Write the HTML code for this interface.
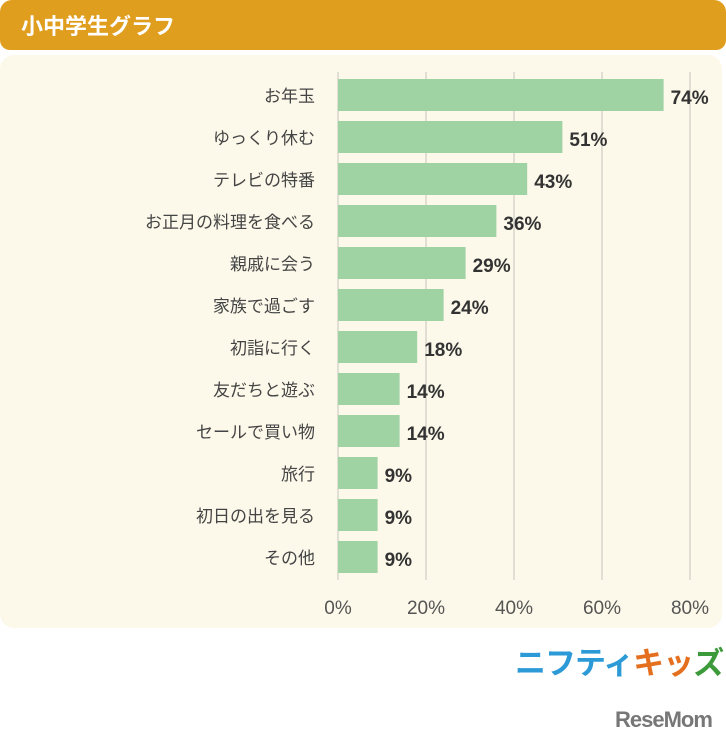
<!DOCTYPE html>
<html><head><meta charset="utf-8"><style>
body{margin:0;width:726px;height:746px;background:#fff;font-family:"Liberation Sans","Noto Sans CJK JP",sans-serif;position:relative;overflow:hidden}
.hdr{position:absolute;left:0;top:0;width:726px;height:50px;background:#e09e1f;border-radius:12px 12px 10px 10px}
.hdr span{position:absolute;left:21px;top:9px;color:#fff;font-size:22px;font-weight:bold}
.panel{position:absolute;left:0;top:55px;width:722px;height:573px;background:#fcf9ea;border-radius:14px}
svg{position:absolute;left:0;top:0}
</style></head><body>
<div class="hdr"><span>小中学生グラフ</span></div>
<div class="panel"></div>
<svg id="c" width="726" height="746"></svg>
<div style="position:absolute;left:515px;top:638px;font-size:31px;font-weight:bold;letter-spacing:-1px;white-space:nowrap"><span style="color:#2c9ad6">ニフティ</span><span style="color:#e4701f">キッ</span><span style="color:#3c9a3a">ズ</span></div>
<div style="position:absolute;left:615px;top:707px;font-size:22px;font-weight:bold;color:#777;letter-spacing:-1px">ReseMom</div>
<script>
const categories=["お年玉","ゆっくり休む","テレビの特番","お正月の料理を食べる","親戚に会う","家族で過ごす","初詣に行く","友だちと遊ぶ","セールで買い物","旅行","初日の出を見る","その他"];
const values=[74,51,43,36,29,24,18,14,14,9,9,9];
const ticks=[0,20,40,60,80];
const svg=document.getElementById('c');const NS="http://www.w3.org/2000/svg";
const x=v=>338+v*4.4;const y=i=>79+i*42;
function mk(t,a){const e=document.createElementNS(NS,t);for(const k in a)e.setAttribute(k,a[k]);svg.appendChild(e);return e;}
ticks.forEach(t=>{
 const l=mk('line',{x1:x(t),x2:x(t),y1:72,y2:580,stroke:'#d8d6cc','stroke-width':1.5});
 
 
 const tx=mk('text',{x:x(t),y:614,'text-anchor':'middle','font-size':19,fill:'#555'});tx.textContent=t+'%';
 
 
});
categories.forEach((c,i)=>{
 const r=mk('rect',{x:x(0),y:y(i),width:x(values[i])-x(0),height:32,fill:'#a0d3a3'});
 
 
 const lb=mk('text',{x:315,y:y(i)+23,'text-anchor':'end','font-size':17,fill:'#444'});lb.textContent=c;
 
 
 const v=mk('text',{x:x(values[i])+7,y:y(i)+25,'font-size':19,'font-weight':'bold',fill:'#333'});v.textContent=values[i]+'%';
 
 
});
</script>
</body></html>
